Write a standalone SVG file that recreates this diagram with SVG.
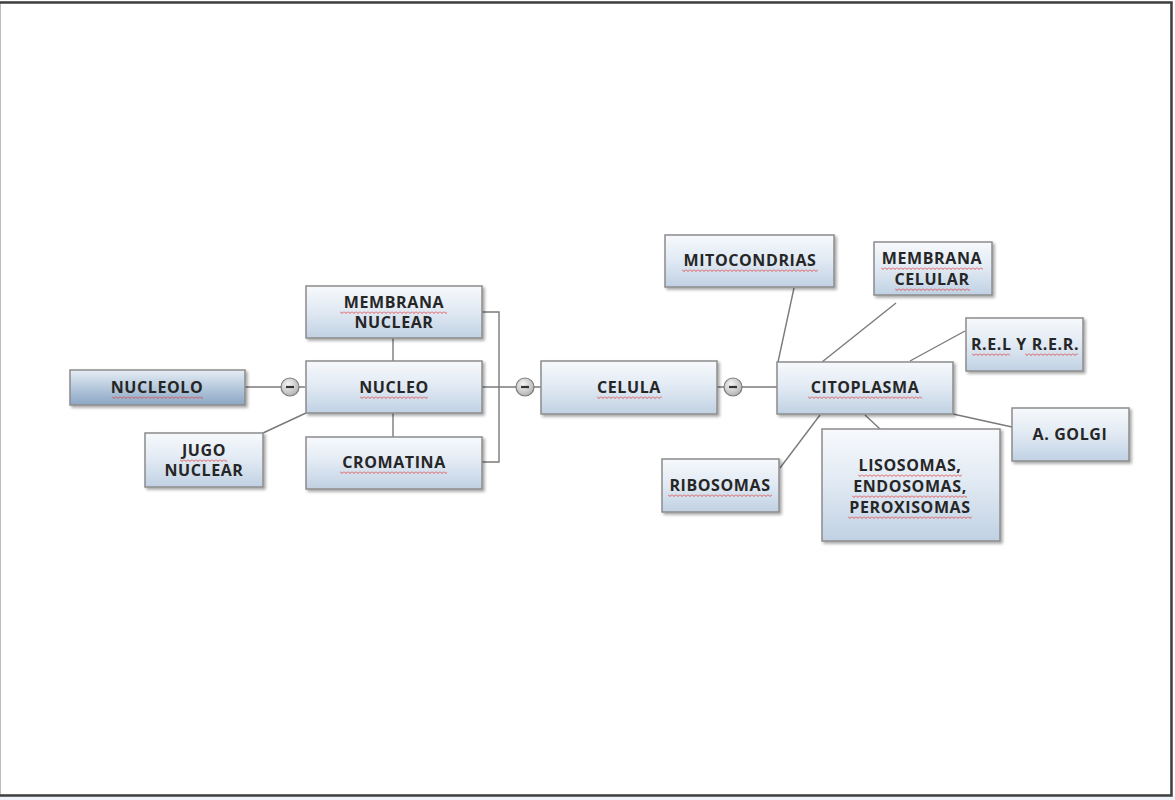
<svg xmlns="http://www.w3.org/2000/svg" width="1175" height="800" viewBox="0 0 1175 800">
<defs>
<linearGradient id="gNode" x1="0" y1="0" x2="0" y2="1">
<stop offset="0" stop-color="#f7f9fc"/>
<stop offset="0.5" stop-color="#e0e9f3"/>
<stop offset="1" stop-color="#c0d1e3"/>
</linearGradient>
<linearGradient id="gDark" x1="0" y1="0" x2="0" y2="1">
<stop offset="0" stop-color="#e6edf5"/>
<stop offset="0.5" stop-color="#b6c9dc"/>
<stop offset="1" stop-color="#8ba6c5"/>
</linearGradient>
<radialGradient id="gBtn" cx="0.4" cy="0.35" r="0.7">
<stop offset="0" stop-color="#f4f4f4"/>
<stop offset="1" stop-color="#b0b0b0"/>
</radialGradient>
<pattern id="wave" patternUnits="userSpaceOnUse" width="4" height="3">
<path d="M0 0.5 L2 2.5 L4 0.5" fill="none" stroke="#e04545" stroke-width="0.9"/>
</pattern>
<filter id="sh" x="-10%" y="-10%" width="125%" height="135%">
<feDropShadow dx="2" dy="2" stdDeviation="1.5" flood-color="#000" flood-opacity="0.35"/>
</filter>
</defs>
<style>
.box{fill:url(#gNode);stroke:#8c8c8c;stroke-width:1.5;filter:url(#sh)}
.dark{fill:url(#gDark)}
.t{font-family:"Open Sans","Liberation Sans",sans-serif;font-weight:700;font-size:16px;fill:#262626;text-anchor:middle;letter-spacing:0.6px}
.c{stroke:#7a7a7a;stroke-width:1.4;fill:none}
.sq{fill:url(#wave)}
.btn{fill:url(#gBtn);stroke:#7c7c7c;stroke-width:1.2}
.dash{stroke:#333;stroke-width:2.2}
</style>
<rect x="0" y="0" width="1175" height="800" fill="#ffffff"/>
<rect x="0" y="796" width="1175" height="4" fill="#eef2fb"/>
<path d="M0.5 2 H1171 V795 H0.5 Z" fill="none" stroke="#bdbdbd" stroke-width="1"/>
<path d="M0 2.5 H1171.5 V795.5 H0" fill="none" stroke="#404040" stroke-width="2.5"/>

<g id="connectors">
<line class="c" x1="245" y1="387" x2="305" y2="387"/>
<line class="c" x1="393" y1="338" x2="393" y2="361"/>
<line class="c" x1="393" y1="413" x2="393" y2="437"/>
<line class="c" x1="306" y1="413" x2="263" y2="433"/>
<polyline class="c" points="482,312 499,312 499,462 482,462"/>
<line class="c" x1="482" y1="387" x2="541" y2="387"/>
<line class="c" x1="717" y1="387" x2="777" y2="387"/>
<line class="c" x1="794" y1="288" x2="778" y2="362"/>
<line class="c" x1="896" y1="303" x2="822" y2="362"/>
<line class="c" x1="965" y1="331" x2="910" y2="361"/>
<line class="c" x1="953" y1="414" x2="1012" y2="427"/>
<line class="c" x1="820" y1="415" x2="780" y2="468"/>
<line class="c" x1="865" y1="415" x2="880" y2="429"/>
<g id="btn1"><circle class="btn" cx="290" cy="387" r="9"/><line class="dash" x1="286" y1="387" x2="294" y2="387"/></g>
<g id="btn2"><circle class="btn" cx="525" cy="387" r="9"/><line class="dash" x1="521" y1="387" x2="529" y2="387"/></g>
<g id="btn3"><circle class="btn" cx="733" cy="387" r="9"/><line class="dash" x1="729" y1="387" x2="737" y2="387"/></g>
</g>

<g id="nucleolo">
<rect class="box dark" x="70" y="370" width="175" height="35"/>
<text class="t" x="157" y="393">NUCLEOLO</text>
<rect class="sq" transform="translate(112,396)" width="91" height="3"/>
</g>

<g id="nucleo">
<rect class="box" x="306" y="361" width="176" height="52"/>
<text class="t" x="394" y="393">NUCLEO</text>
<rect class="sq" transform="translate(360,396)" width="68" height="3"/>
</g>

<g id="membrana-nuclear">
<rect class="box" x="306" y="286" width="176" height="52"/>
<text class="t" x="394" y="308">MEMBRANA</text>
<text class="t" x="394" y="328">NUCLEAR</text>
<rect class="sq" transform="translate(340,311)" width="107" height="3"/>
</g>

<g id="cromatina">
<rect class="box" x="306" y="437" width="176" height="52"/>
<text class="t" x="394" y="468">CROMATINA</text>
<rect class="sq" transform="translate(340,471)" width="107" height="3"/>
</g>

<g id="jugo-nuclear">
<rect class="box" x="145" y="433" width="118" height="54"/>
<text class="t" x="204" y="456">JUGO</text>
<text class="t" x="204" y="476">NUCLEAR</text>
<rect class="sq" transform="translate(180,459)" width="47" height="3"/>
</g>

<g id="celula">
<rect class="box" x="541" y="361" width="176" height="53"/>
<text class="t" x="629" y="393">CELULA</text>
<rect class="sq" transform="translate(597,396)" width="65" height="3"/>
</g>

<g id="citoplasma">
<rect class="box" x="777" y="362" width="176" height="52"/>
<text class="t" x="865" y="393">CITOPLASMA</text>
<rect class="sq" transform="translate(808,396)" width="114" height="3"/>
</g>

<g id="mitocondrias">
<rect class="box" x="665" y="235" width="169" height="52"/>
<text class="t" x="750" y="266">MITOCONDRIAS</text>
<rect class="sq" transform="translate(682,269)" width="136" height="3"/>
</g>

<g id="membrana-celular">
<rect class="box" x="874" y="242" width="118" height="53"/>
<text class="t" x="932" y="264">MEMBRANA</text>
<text class="t" x="932" y="285">CELULAR</text>
<rect class="sq" transform="translate(881,267)" width="102" height="3"/>
<rect class="sq" transform="translate(895,288)" width="75" height="3"/>
</g>

<g id="rel-rer">
<rect class="box" x="966" y="318" width="117" height="53"/>
<text class="t" x="1025" y="350">R.E.L Y R.E.R.</text>
<rect class="sq" transform="translate(972,353)" width="38" height="3"/>
<rect class="sq" transform="translate(1025,353)" width="53" height="3"/>
</g>

<g id="golgi">
<rect class="box" x="1012" y="408" width="117" height="53"/>
<text class="t" x="1070" y="440">A. GOLGI</text>
</g>

<g id="ribosomas">
<rect class="box" x="662" y="459" width="117" height="53"/>
<text class="t" x="720" y="491">RIBOSOMAS</text>
<rect class="sq" transform="translate(668,494)" width="104" height="3"/>
</g>

<g id="lisosomas">
<rect class="box" x="822" y="429" width="178" height="112"/>
<text class="t" x="910" y="471">LISOSOMAS,</text>
<text class="t" x="910" y="492">ENDOSOMAS,</text>
<text class="t" x="910" y="513">PEROXISOMAS</text>
<rect class="sq" transform="translate(858,474)" width="104" height="3"/>
<rect class="sq" transform="translate(852,495)" width="115" height="3"/>
<rect class="sq" transform="translate(848,516)" width="124" height="3"/>
</g>
</svg>
